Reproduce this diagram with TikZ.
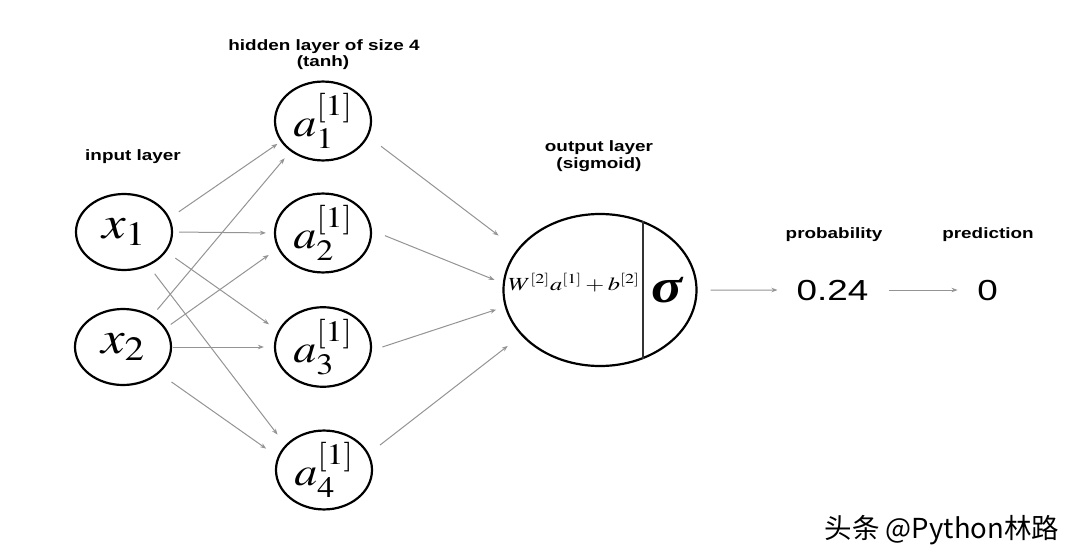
\documentclass[tikz,border=0pt]{standalone}
\usepackage{mathptmx}
\usepackage[no-math]{fontspec}
\setmainfont{Liberation Sans}
\newfontfamily\cjk{Noto Sans CJK SC}
\newfontfamily\serifbi{Liberation Serif}
\usepackage{graphicx}
\usetikzlibrary{arrows.meta,shapes.geometric}
\newcommand\hx[2]{\scalebox{#1}[1]{#2}}
\tikzset{
  neuron/.style={ellipse, draw, line width=2.2pt, minimum width=96pt, minimum height=76pt, inner sep=0pt},
  outneuron/.style={ellipse, draw, line width=2.2pt, minimum width=193pt, minimum height=152pt, inner sep=0pt},
  conn/.style={draw=black!42, line width=1pt, -{Stealth[length=6pt,width=4.5pt]}},
  lbl/.style={font=\fontsize{15}{17}\selectfont\bfseries, inner sep=0pt, anchor=base},
  num/.style={font=\fontsize{29}{31}\selectfont, inner sep=0pt, anchor=base},
  xfont/.style={font=\fontsize{46}{48}\selectfont},
  afont/.style={font=\fontsize{40}{42}\selectfont},
}
\begin{document}
\begin{tikzpicture}[x=1pt,y=-1pt]
\fill[white] (0,0) rectangle (1080,559);
\useasboundingbox (0,0) rectangle (1080,559);

% input layer
\node[neuron, xfont] (x1) at (124,232) {\hx{1.15}{$x_1$}};
\node[neuron, xfont] (x2) at (123,347) {\hx{1.15}{$x_2$}};

% hidden layer
\node[neuron, afont] (a1) at (323,121) {\hx{1.15}{$a_1^{[1]}$}};
\node[neuron, afont] (a2) at (323,233) {\hx{1.15}{$a_2^{[1]}$}};
\node[neuron, afont] (a3) at (323,347) {\hx{1.15}{$a_3^{[1]}$}};
\node[neuron, afont] (a4) at (324,470) {\hx{1.15}{$a_4^{[1]}$}};

% output neuron
\node[outneuron] (out) at (600,290) {};
\draw[line width=1.5pt, black!80] (out.58) -- (out.-58);
\node[font=\fontsize{18.5}{20}\selectfont, inner sep=0pt, anchor=base] (f) at (574,290) {\hx{1.32}{$W^{[2]}a^{[1]}+b^{[2]}$}};
\node[font=\fontsize{48}{50}\selectfont\serifbi\bfseries\itshape, inner sep=0pt, anchor=base] (s) at (667,302) {\hx{1.2}{σ}};

% values
\node[num] (p) at (832.5,300) {\hx{1.27}{0.24}};
\node[num] (d) at (987.5,300) {\hx{1.27}{0}};

% labels
\node[lbl] (hl1) at (324,51) {\hx{1.26}{hidden layer of size 4}};
\node[lbl] (hl2) at (323,67) {\hx{1.26}{(tanh)}};
\node[lbl] (il) at (133,161) {\hx{1.26}{input layer}};
\node[lbl] (ol1) at (599,152) {\hx{1.26}{output layer}};
\node[lbl] (ol2) at (599,169) {\hx{1.26}{(sigmoid)}};
\node[lbl] (pl) at (834,239) {\hx{1.26}{probability}};
\node[lbl] (dl) at (988,239) {\hx{1.26}{prediction}};

% watermark
\node[font=\cjk\fontsize{27.5}{29}\selectfont, inner sep=0pt, anchor=base] (wm) at (942,538) {头条 @Python林路};

% input -> hidden
\draw[conn, shorten <=11pt, shorten >=4pt] (x1.17) -- (a1.206);
\draw[conn, shorten <=6pt, shorten >=8pt] (x1.0) -- (a2.180);
\draw[conn, shorten <=11pt, shorten >=11pt] (x1.-25) -- (a3.160);
\draw[conn, shorten <=10pt, shorten >=13pt] (x1.-54) -- (a4.147);
\draw[conn, shorten <=8pt, shorten >=9pt] (x2.47) -- (a1.223);
\draw[conn, shorten <=6pt, shorten >=11pt] (x2.24) -- (a2.199);
\draw[conn, shorten <=1pt, shorten >=10pt] (x2.0) -- (a3.180);
\draw[conn, shorten <=15pt, shorten >=14pt] (x2.-36) -- (a4.164);

% hidden -> output
\draw[conn, shorten <=16pt, shorten >=23pt] (a1.-19) -- (out.154);
\draw[conn, shorten <=14pt, shorten >=9pt] (a2.3) -- (out.176);
\draw[conn, shorten <=11pt, shorten >=9pt] (a3.-4) -- (out.190);
\draw[conn, shorten <=14pt, shorten >=17pt] (a4.20) -- (out.210);

% output -> values
\draw[conn, shorten <=13pt, shorten >=19pt] (out.east) -- (p.west);
\draw[conn, shorten <=20pt, shorten >=19.5pt] (p.east) -- (d.west);
\end{tikzpicture}
\end{document}
